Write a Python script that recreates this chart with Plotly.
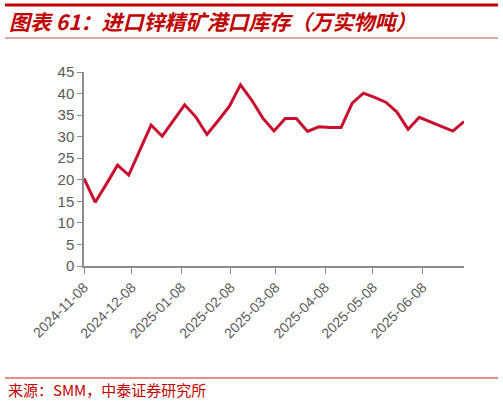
import plotly.graph_objects as go
import pandas as pd

dates = pd.date_range("2024-11-08", periods=35, freq="7D").strftime("%Y-%m-%d").tolist()
inventory = [20.3, 14.8, 19.0, 23.4, 21.1, 26.8, 32.7, 30.1, 33.9, 37.4,
             34.6, 30.5, 33.7, 37.0, 42.0, 38.5, 34.3, 31.3, 34.2, 34.2,
             31.2, 32.3, 32.1, 32.1, 37.8, 40.1, 39.1, 38.0, 35.7, 31.7,
             34.5, 33.4, 32.4, 31.3, 33.5]
tick_vals = ["2024-11-08", "2024-12-08", "2025-01-08", "2025-02-08",
             "2025-03-08", "2025-04-08", "2025-05-08", "2025-06-08"]
y_ticks = [0, 5, 10, 15, 20, 25, 30, 35, 40, 45]
title_text = "图表 61：进口锌精矿港口库存（万实物吨）"
source_text = "来源：SMM，中泰证券研究所"

fig = go.Figure()
fig.add_trace(go.Scatter(x=dates, y=inventory, mode="lines",
                         line=dict(color="#C8102E", width=3), showlegend=False))

fig.update_layout(
    width=503, height=402,
    margin=dict(l=84, r=39, t=72, b=136),
    paper_bgcolor="white", plot_bgcolor="white",
    font=dict(family="Liberation Sans, Arial, sans-serif", color="#595959"),
)
fig.update_xaxes(
    type="date", range=["2024-11-08", "2025-07-04"],
    tickvals=tick_vals, ticktext=tick_vals, tickangle=-45,
    tickfont=dict(size=14, color="#595959"),
    showgrid=False, showline=True, linecolor="#8c8c8c", linewidth=1.5,
    ticks="outside", ticklen=6, tickcolor="#8c8c8c", zeroline=False,
)
fig.update_yaxes(
    range=[0, 45], tickvals=y_ticks,
    tickfont=dict(size=15, color="#595959"),
    showgrid=False, showline=True, linecolor="#8c8c8c", linewidth=1.5,
    ticks="outside", ticklen=5, tickcolor="#8c8c8c", zeroline=False,
)

# header / footer decoration
fig.add_shape(type="line", xref="paper", yref="paper",
              x0=-79/380, x1=(498-84)/380, y0=(266-5)/194, y1=(266-5)/194,
              line=dict(color="#C00000", width=3))
fig.add_shape(type="line", xref="paper", yref="paper",
              x0=-79/380, x1=(498-84)/380, y0=(266-38)/194, y1=(266-38)/194,
              line=dict(color="#C0504D", width=1))
fig.add_shape(type="line", xref="paper", yref="paper",
              x0=-79/380, x1=(498-84)/380, y0=(266-378)/194, y1=(266-378)/194,
              line=dict(color="#E06666", width=1.5))
fig.add_annotation(text="<b><i>" + title_text + "</i></b>", xref="paper", yref="paper",
                   x=-77/380, y=(266-21)/194, xanchor="left", yanchor="middle",
                   showarrow=False,
                   font=dict(size=21, color="#C00000",
                             family="Noto Sans CJK SC, sans-serif"))
fig.add_annotation(text=source_text, xref="paper", yref="paper",
                   x=-78/380, y=(266-389)/194, xanchor="left", yanchor="middle",
                   showarrow=False,
                   font=dict(size=15, color="#C00000",
                             family="Noto Sans CJK SC, sans-serif"))

fig.write_html("out.html", config={"displayModeBar": False},
               post_script="document.body.style.margin='0';document.body.style.padding='0';")
